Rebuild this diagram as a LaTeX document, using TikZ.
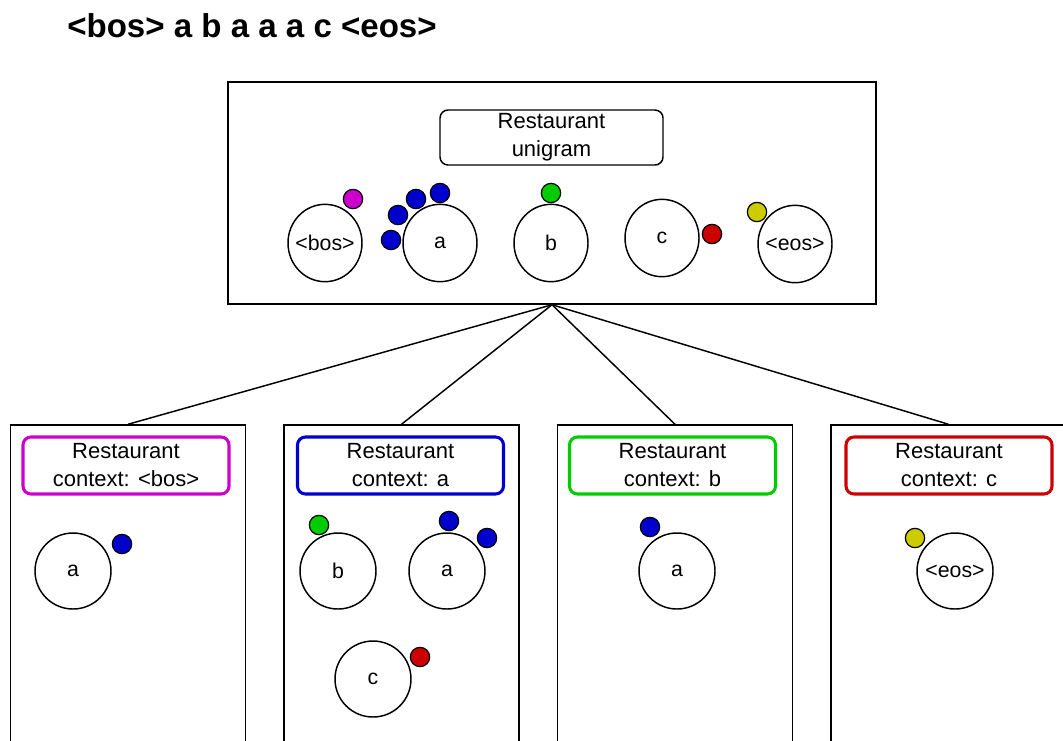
\documentclass[tikz,border=0pt]{standalone}
\usepackage{fontspec}
\setmainfont{Liberation Sans}
\usetikzlibrary{shapes.geometric}
\definecolor{cmag}{RGB}{204,0,204}
\definecolor{cblue}{RGB}{0,0,204}
\definecolor{cgreen}{RGB}{0,204,0}
\definecolor{cred}{RGB}{204,0,0}
\definecolor{cyell}{RGB}{204,204,0}
% table text that never widens the table outline
\newcommand\tabletext[1]{\makebox[0pt]{#1}}
\begin{document}
\begin{tikzpicture}[x=0.75pt,y=-0.75pt,
  panel/.style={draw, line width=1.1pt, inner sep=0pt},
  ctxpanel/.style={panel, minimum width=176.25pt, minimum height=300pt},
  label/.style={draw=#1, line width=2.3pt, rounded corners=6pt, align=center,
    minimum width=154.5pt, minimum height=42.75pt, inner sep=0pt,
    font=\fontsize{16.5}{21}\selectfont},
  table/.style={ellipse, draw, line width=1.1pt, minimum width=55.5pt,
    minimum height=58pt, inner sep=0pt, font=\fontsize{16}{18}\selectfont},
  ctable/.style={table, minimum width=57pt, minimum height=57pt},
  guest/.style={circle, draw, line width=0.9pt, minimum size=14.5pt,
    inner sep=0pt, fill=#1},
  link/.style={line width=1.1pt}]
\useasboundingbox (0,0) rectangle (1063,740);
\clip (0,0) rectangle (1063,740);

% sentence
\node[anchor=base west, inner sep=0pt, font=\fontsize{24.8}{28}\selectfont\bfseries]
  (sent) at (67,37) {<bos> a b a a a c <eos>};

% unigram restaurant
\node[panel, minimum width=486pt, minimum height=166.5pt] (top) at (552,193) {};
\node[draw, line width=1.1pt, rounded corners=6pt, align=center, inner sep=0pt,
  minimum width=167.25pt, minimum height=41.25pt, font=\fontsize{16.5}{21}\selectfont]
  (uni) at (551.5,137.5) {Restaurant\\unigram};

\node[table] (u-bos) at (325,243) {\tabletext{<bos>}};
\node[table] (u-a)   at (440,243) {\tabletext{a}};
\node[table] (u-b)   at (551,243) {\tabletext{b}};
\node[table] (u-c)   at (662,238) {\tabletext{c}};
\node[table] (u-eos) at (795,244) {\tabletext{<eos>}};

\node[guest=cmag]  (g1) at (353,199) {};
\node[guest=cblue] (g2) at (391,240) {};
\node[guest=cblue] (g3) at (398,215) {};
\node[guest=cblue] (g4) at (416,199) {};
\node[guest=cblue] (g5) at (440,193) {};
\node[guest=cgreen](g6) at (551,193) {};
\node[guest=cred]  (g7) at (712,234) {};
\node[guest=cyell] (g8) at (757,212) {};

% context restaurants
\node[ctxpanel] (c1) at (128,625) {};
\node[ctxpanel] (c2) at (401.5,625) {};
\node[ctxpanel] (c3) at (675,625) {};
\node[ctxpanel] (c4) at (948.5,625) {};

\draw[link] (top.south) -- (c1.north);
\draw[link] (top.south) -- (c2.north);
\draw[link] (top.south) -- (c3.north);
\draw[link] (top.south) -- (c4.north);

\node[label=cmag]   (l1) at (126,465.5)   {Restaurant\\context: <bos>};
\node[label=cblue]  (l2) at (400.5,465.5) {Restaurant\\context: a};
\node[label=cgreen] (l3) at (672.5,465.5) {Restaurant\\context: b};
\node[label=cred]   (l4) at (949,465.5)   {Restaurant\\context: c};

% context <bos>
\node[ctable] (b-a) at (73,571) {\tabletext{a}};
\node[guest=cblue] (bg1) at (122,544) {};

% context a
\node[ctable] (a-b) at (338,571) {\tabletext{b}};
\node[ctable] (a-a) at (447,571) {\tabletext{a}};
\node[ctable] (a-c) at (373,679) {\tabletext{c}};
\node[guest=cgreen] (ag1) at (319,525) {};
\node[guest=cblue]  (ag2) at (449,521) {};
\node[guest=cblue]  (ag3) at (487,538) {};
\node[guest=cred]   (ag4) at (420,657) {};

% context b
\node[ctable] (bb-a) at (677,571) {\tabletext{a}};
\node[guest=cblue] (bbg1) at (650,527) {};

% context c
\node[ctable] (cc-eos) at (955,571) {\tabletext{<eos>}};
\node[guest=cyell] (ccg1) at (915,538) {};
\end{tikzpicture}
\end{document}
